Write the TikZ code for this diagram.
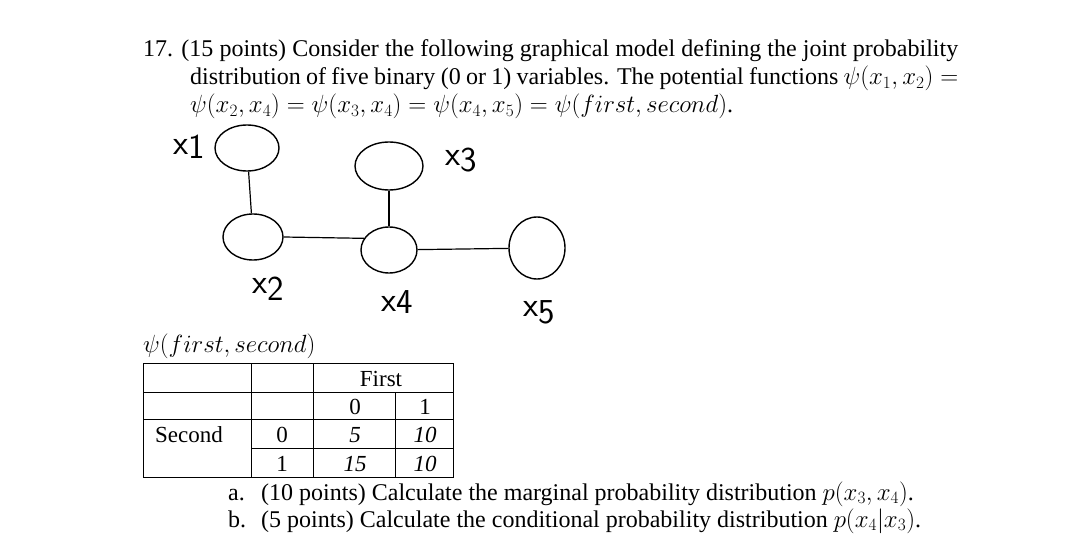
\documentclass[tikz,border=0pt]{standalone}
\usepackage{fontspec}
\setmainfont{Liberation Serif}
\usetikzlibrary{shapes.geometric}
\begin{document}
\begin{tikzpicture}[x=1pt,y=-1pt,
  txt/.style={anchor=base west,inner sep=0pt,font=\fontsize{24}{28}\selectfont},
  rv/.style={ellipse,draw,line width=1.4pt,inner sep=0pt},
  hand/.style={inner sep=0pt,font=\fontsize{35}{35}\sffamily},
  link/.style={line width=1.2pt},
  grid/.style={line width=1pt},
  cell/.style={anchor=base,inner sep=0pt,font=\fontsize{23}{26}\selectfont}
]
\useasboundingbox (0,0) rectangle (1065,537);

% question text
\node[txt] (q1) at (143,57) {\hbox to 815pt{17. (15 points) Consider the following graphical model defining the joint probability}};
\node[txt] (q2) at (190,85) {\hbox to 768pt{distribution of five binary (0 or 1) variables. The potential functions $\psi(x_1,x_2) =$}};
\node[txt] (q3) at (190,113) {$\psi(x_2,x_4) = \psi(x_3,x_4) = \psi(x_4,x_5) = \psi(first,second)$.};

% graphical model
\node[rv,minimum width=64pt,minimum height=46pt] (x1) at (247,148) {};
\node[rv,minimum width=60pt,minimum height=46pt] (x2) at (253,237) {};
\node[rv,minimum width=68pt,minimum height=48pt] (x3) at (389,166) {};
\node[rv,minimum width=56pt,minimum height=46pt] (x4) at (389,250) {};
\node[rv,minimum width=56pt,minimum height=62pt] (x5) at (537,248) {};
\draw[link] (x1) -- (x2);
\draw[link] (x2.0) -- (x4.155);
\draw[link] (x3) -- (x4);
\draw[link] (x4) -- (x5);

\node[hand] (l1) at (189,147) {x\raisebox{-4pt}{1}};
\node[hand] (l2) at (268,289) {x\raisebox{-7pt}{2}};
\node[hand] (l3) at (461,160) {x\raisebox{-6pt}{3}};
\node[hand] (l4) at (397,302) {x\raisebox{-2pt}{4}};
\node[hand] (l5) at (539,312) {x\raisebox{-7pt}{5}};

% table
\node[txt] (cap) at (143,352) {$\psi(first,second)$};
\draw[grid] (143,363) rectangle (453,477);
\draw[grid] (143,392) -- (453,392);
\draw[grid] (143,419) -- (453,419);
\draw[grid] (251,448) -- (453,448);
\draw[grid] (251,363) -- (251,477);
\draw[grid] (313,363) -- (313,477);
\draw[grid] (395,392) -- (395,477);
\node[cell] (first) at (381,386) {First};
\node[cell] (c0) at (355,414) {0};
\node[cell] (c1) at (425,414) {1};
\node[cell,anchor=base west] (sec) at (155,442) {Second};
\node[cell] (r0) at (282,442) {0};
\node[cell] (v00) at (355,442) {\itshape 5};
\node[cell] (v01) at (425,442) {\itshape 10};
\node[cell] (r1) at (282,471) {1};
\node[cell] (v10) at (355,471) {\itshape 15};
\node[cell] (v11) at (425,471) {\itshape 10};

% sub-questions
\node[txt] (a) at (228,500) {a.};
\node[txt] (ta) at (261,500) {(10 points) Calculate the marginal probability distribution $p(x_3,x_4)$.};
\node[txt] (b) at (228,527) {b.};
\node[txt] (tb) at (261,527) {(5 points) Calculate the conditional probability distribution $p(x_4|x_3)$.};
\end{tikzpicture}
\end{document}
